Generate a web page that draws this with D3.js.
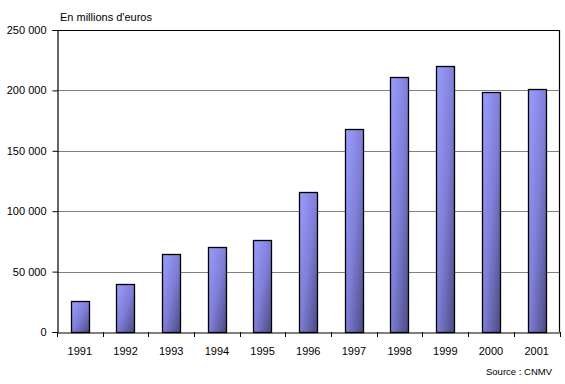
<!DOCTYPE html>
<html><head><meta charset="utf-8">
<script src="https://cdn.jsdelivr.net/npm/d3@7"></script>
<style>body{margin:0;background:#fff}svg{display:block}</style>
</head><body>
<script>
const years = ["1991","1992","1993","1994","1995","1996","1997","1998","1999","2000","2001"];
const values = [25500, 39500, 64500, 70500, 76000, 115800, 168000, 210800, 220000, 198400, 200800];
const yTicks = [0, 50000, 100000, 150000, 200000, 250000];
const title = "En millions d'euros";
const source = "Source : CNMV";

const W = 565, H = 384;
const m = {left: 57, right: 5.5, top: 30, bottom: 52};
const svg = d3.select("body").append("svg").attr("width", W).attr("height", H);
const font = "'Liberation Sans', Arial, sans-serif";

const defs = svg.append("defs");
const g1 = defs.append("linearGradient").attr("id","bg").attr("x1","0").attr("y1","0").attr("x2","1").attr("y2","1");
g1.append("stop").attr("offset","0").attr("stop-color","#9c9cff");
g1.append("stop").attr("offset","0.5").attr("stop-color","#7f7fd8");
g1.append("stop").attr("offset","1").attr("stop-color","#4a4a82");

const x = d3.scaleBand().domain(years).range([m.left, W - m.right]).paddingInner(0.6).paddingOuter(0.3);
const y = d3.scaleLinear().domain([0, 250000]).range([H - m.bottom, m.top]);
const band = d3.scaleBand().domain(years).range([m.left, W - m.right]);

// gridlines
svg.append("g").selectAll("line").data(yTicks.slice(1, -1)).join("line")
  .attr("x1", m.left).attr("x2", W - m.right)
  .attr("y1", d => Math.round(y(d)) + 0.5).attr("y2", d => Math.round(y(d)) + 0.5)
  .attr("stroke", "#808080").attr("stroke-width", 1);

// top and right border
svg.append("path")
  .attr("d", `M${m.left},${m.top + 0.5}H${W - m.right}V${H - m.bottom}`)
  .attr("fill", "none").attr("stroke", "#000").attr("stroke-width", 1.2);

// bars
svg.append("g").selectAll("rect").data(years).join("rect")
  .attr("x", d => Math.round(x(d)) + 0.5)
  .attr("y", (d, i) => Math.round(y(values[i])) + 0.5)
  .attr("width", Math.round(x.bandwidth()))
  .attr("height", (d, i) => Math.round(y(0)) - Math.round(y(values[i])))
  .attr("fill", "url(#bg)")
  .attr("stroke", "#000").attr("stroke-width", 1.3);

// y axis
const yAxis = d3.axisLeft(y).tickValues(yTicks).tickSize(5).tickPadding(6)
  .tickFormat(d => d3.format(",")(d).replace(/,/g, " "));
const ya = svg.append("g").attr("transform", `translate(${m.left + 0.5},0)`).call(yAxis);
ya.select(".domain").attr("stroke", "#000").attr("stroke-width", 1.2);
ya.selectAll(".tick line").attr("stroke", "#000");
ya.selectAll("text").attr("font-family", font).attr("font-size", 11).attr("fill", "#000");

// x axis
const xAxis = d3.axisBottom(band).tickSize(0).tickPadding(15);
const xa = svg.append("g").attr("transform", `translate(0,${H - m.bottom + 0.5})`).call(xAxis);
xa.select(".domain").attr("stroke", "#000").attr("stroke-width", 1.2);
xa.selectAll("text").attr("font-family", font).attr("font-size", 11).attr("fill", "#000");
// category boundary ticks
svg.append("g").selectAll("line").data(years.concat(["end"])).join("line")
  .attr("x1", (d, i) => Math.round(m.left + i * band.step()) + 0.5)
  .attr("x2", (d, i) => Math.round(m.left + i * band.step()) + 0.5)
  .attr("y1", H - m.bottom).attr("y2", H - m.bottom + 5)
  .attr("stroke", "#000");

svg.append("text").attr("x", 60).attr("y", 21).text(title)
  .attr("font-family", font).attr("font-size", 11).attr("fill", "#000");
svg.append("text").attr("x", 552).attr("y", 375).attr("text-anchor", "end").text(source)
  .attr("font-family", font).attr("font-size", 9.5).attr("fill", "#000");
</script>
</body></html>
